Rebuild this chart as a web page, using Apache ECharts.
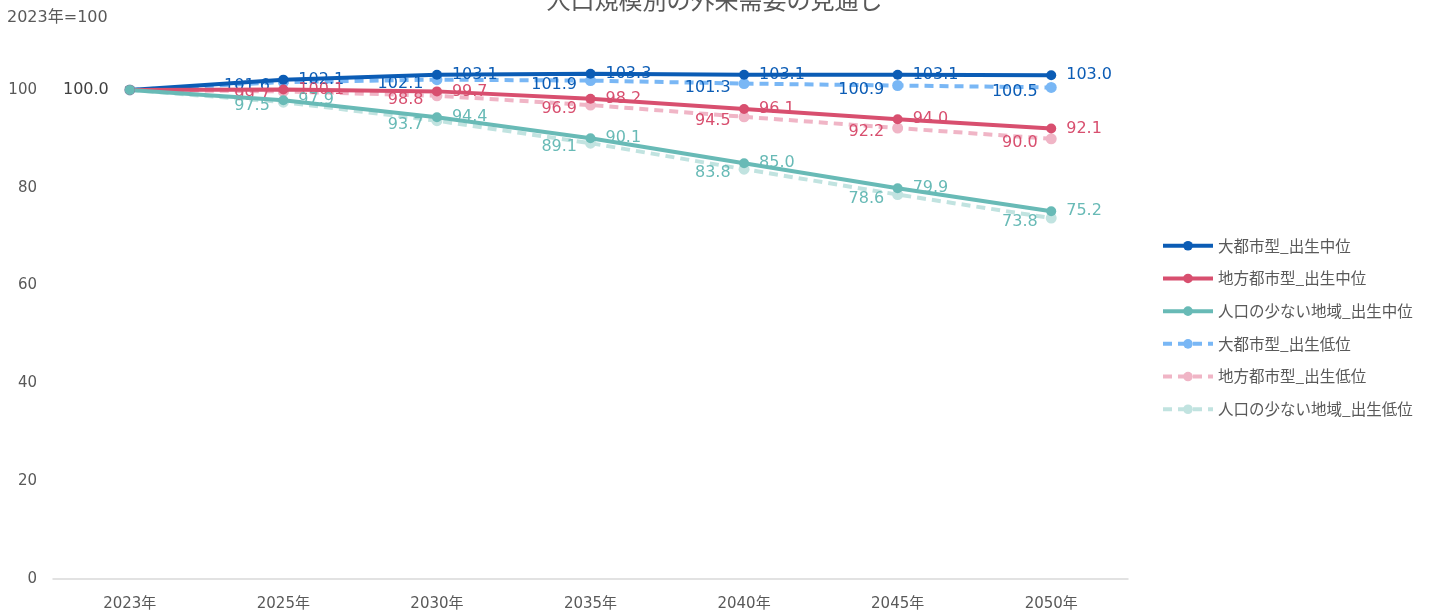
<!DOCTYPE html>
<html>
<head>
<meta charset="utf-8">
<script src="https://cdn.jsdelivr.net/npm/echarts@6/dist/echarts.min.js"></script>
<style>
  html, body { margin: 0; padding: 0; background: #fff; }
  #chart { width: 1429px; height: 612px; }
</style>
</head>
<body>
<div id="chart"></div>
<script>
// カテゴリ
var years = ['2023年', '2025年', '2030年', '2035年', '2040年', '2045年', '2050年'];

// 出生中位
var bigCityMid = [100.0, 102.1, 103.1, 103.3, 103.1, 103.1, 103.0];
var localCityMid = [100.0, 100.1, 99.7, 98.2, 96.1, 94.0, 92.1];
var ruralMid = [100.0, 97.9, 94.4, 90.1, 85.0, 79.9, 75.2];

// 出生低位
var bigCityLow = [100.0, 101.6, 102.1, 101.9, 101.3, 100.9, 100.5];
var localCityLow = [100.0, 99.7, 98.8, 96.9, 94.5, 92.2, 90.0];
var ruralLow = [100.0, 97.5, 93.7, 89.1, 83.8, 78.6, 73.8];

var FONT = '"DejaVu Sans", "Noto Sans CJK JP", sans-serif';
var CJK = '"Noto Sans CJK JP", sans-serif';

function hideFirst(p) {
  return p.dataIndex === 0 ? '' : p.value.toFixed(1);
}

function midSeries(name, data, color, firstLabel) {
  return {
    name: name,
    type: 'line',
    data: data.map(function (v, i) {
      if (i === 0 && firstLabel) {
        return { value: v, label: { show: true, position: 'left', distance: 16, color: '#404040', formatter: function (p) { return p.value.toFixed(1); } } };
      }
      return v;
    }),
    symbol: 'circle',
    symbolSize: 10,
    lineStyle: { width: 4, color: color },
    itemStyle: { color: color },
    label: {
      show: true,
      position: 'right',
      distance: 10,
      color: color,
      fontSize: 16,
      fontFamily: FONT,
      formatter: hideFirst
    },
    z: 3
  };
}

function lowSeries(name, data, color, textColor) {
  return {
    name: name,
    type: 'line',
    data: data,
    symbol: 'circle',
    symbolSize: 11,
    lineStyle: { width: 4, color: color, type: [9, 6] },
    itemStyle: { color: color },
    label: {
      show: true,
      position: 'left',
      distance: 8,
      offset: [0, 4],
      color: textColor,
      fontSize: 16,
      fontFamily: FONT,
      formatter: hideFirst
    },
    z: 2
  };
}

var chart = echarts.init(document.getElementById('chart'));
chart.setOption({
  animation: false,
  title: {
    text: '人口規模別の外来需要の見通し',
    left: 'center',
    top: -17,
    textStyle: { fontSize: 24, fontWeight: 'normal', color: '#595959', fontFamily: CJK }
  },
  graphic: [{
    type: 'text',
    left: 7,
    top: 10,
    style: { text: '2023年=100', fontSize: 16, fill: '#595959', fontFamily: FONT }
  }],
  legend: {
    orient: 'vertical',
    left: 1156,
    top: 233,
    itemWidth: 50,
    itemHeight: 12,
    itemGap: 17.2,
    lineStyle: { width: 4 },
    textStyle: { fontSize: 15.5, color: '#595959', fontFamily: CJK }
  },
  grid: { left: 53, right: 301, top: 41, bottom: 33 },
  xAxis: {
    type: 'category',
    data: years,
    boundaryGap: true,
    axisLine: { lineStyle: { color: '#d9d9d9', width: 1.5 } },
    axisTick: { show: false },
    axisLabel: { color: '#595959', fontSize: 15, margin: 18, fontFamily: FONT }
  },
  yAxis: {
    type: 'value',
    min: 0,
    max: 110,
    interval: 20,
    splitLine: { show: false },
    axisLine: { show: false },
    axisTick: { show: false },
    axisLabel: { color: '#595959', fontSize: 15, margin: 16, showMaxLabel: false, fontFamily: FONT }
  },
  series: [
    midSeries('大都市型_出生中位', bigCityMid, '#0b5cb5', true),
    midSeries('地方都市型_出生中位', localCityMid, '#d84f6f', false),
    midSeries('人口の少ない地域_出生中位', ruralMid, '#68bab6', false),
    lowSeries('大都市型_出生低位', bigCityLow, '#79b7f5', '#0b5cb5'),
    lowSeries('地方都市型_出生低位', localCityLow, '#f0b5c6', '#d84f6f'),
    lowSeries('人口の少ない地域_出生低位', ruralLow, '#c1e3e0', '#68bab6')
  ]
});
</script>
</body>
</html>
